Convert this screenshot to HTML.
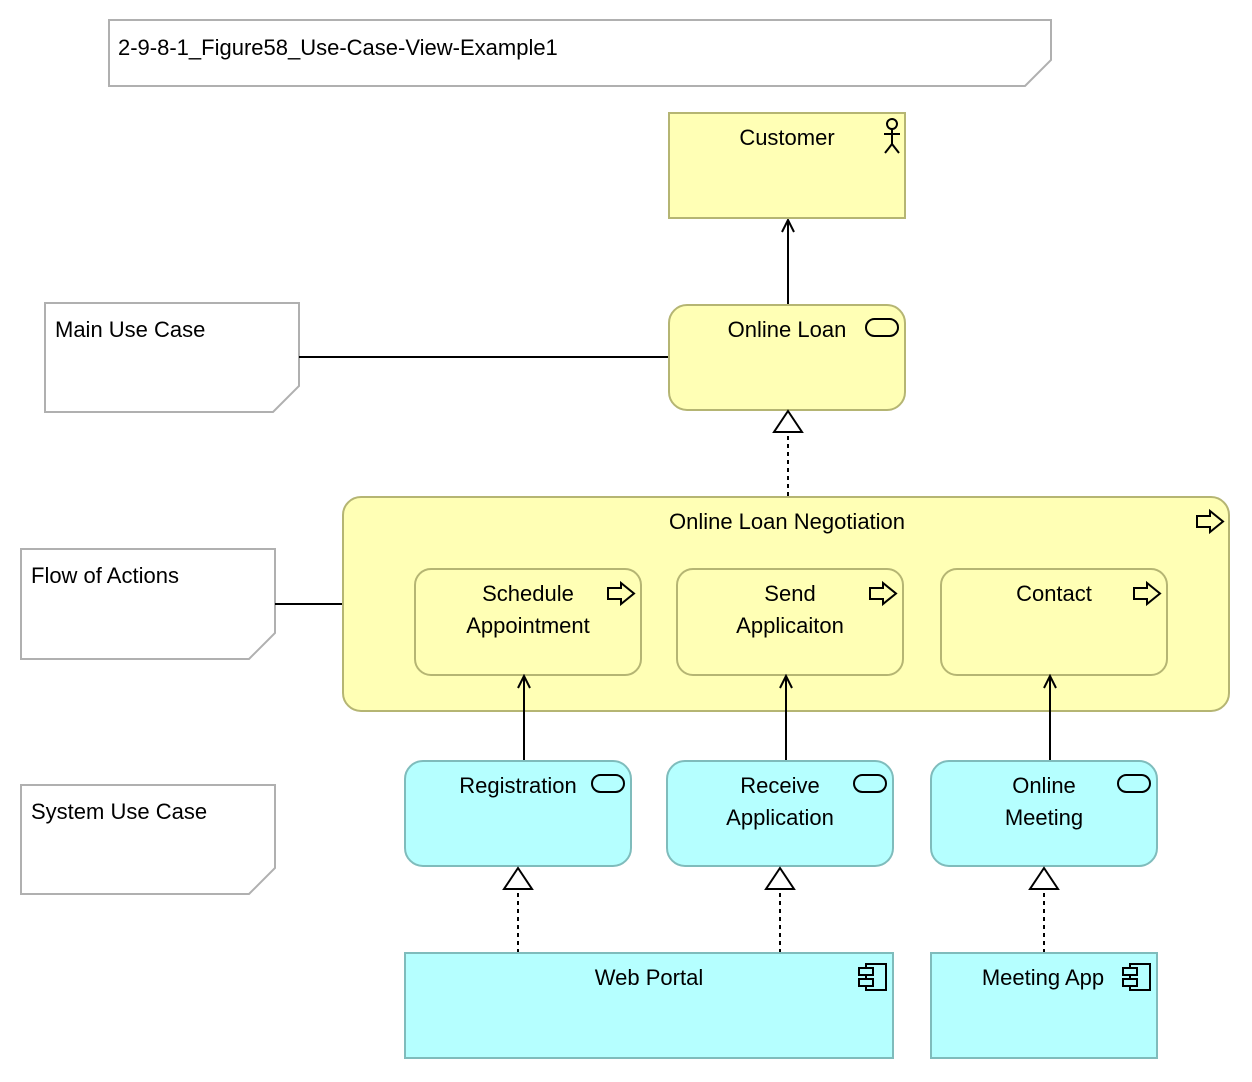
<!DOCTYPE html>
<html><head><meta charset="utf-8"><style>
html,body{margin:0;padding:0;background:#fff;}
svg{display:block;}
text{font-family:"Liberation Sans",sans-serif;font-size:22px;fill:#000;}
</style></head><body>
<svg width="1252" height="1082" viewBox="0 0 1252 1082" xmlns="http://www.w3.org/2000/svg">
<defs>
<g id="pill"><rect x="0" y="0" width="32" height="17" rx="8.5" fill="none" stroke="#000" stroke-width="2"/></g>
<g id="arr"><path d="M0,5 H13 V0 L26,10.5 L13,21 V16 H0 Z" fill="none" stroke="#000" stroke-width="2" stroke-linejoin="miter"/></g>
<g id="comp"><rect x="7" y="0" width="20" height="26" fill="none" stroke="#000" stroke-width="2"/><rect x="0" y="4" width="14" height="7" fill="#b5ffff" stroke="#000" stroke-width="2"/><rect x="0" y="15" width="14" height="7" fill="#b5ffff" stroke="#000" stroke-width="2"/></g>
<g id="tri"><path d="M0,0 L14,21 L-14,21 Z" fill="#fff" stroke="#000" stroke-width="2"/></g>
<g id="oa"><path d="M-6,12 L0,0 L6,12" fill="none" stroke="#000" stroke-width="2"/></g>
</defs>

<path d="M109,20 H1051 V60 L1025,86 H109 Z" fill="#fff" stroke="#b0b0b0" stroke-width="2"/>
<text x="118" y="55">2-9-8-1_Figure58_Use-Case-View-Example1</text>

<path d="M45,303 H299 V386 L273,412 H45 Z" fill="#fff" stroke="#b0b0b0" stroke-width="2"/>
<text x="55" y="337">Main Use Case</text>
<path d="M21,549 H275 V633 L249,659 H21 Z" fill="#fff" stroke="#b0b0b0" stroke-width="2"/>
<text x="31" y="583">Flow of Actions</text>
<path d="M21,785 H275 V868 L249,894 H21 Z" fill="#fff" stroke="#b0b0b0" stroke-width="2"/>
<text x="31" y="819">System Use Case</text>

<line x1="299" y1="357" x2="669" y2="357" stroke="#000" stroke-width="2"/>
<line x1="275" y1="604" x2="343" y2="604" stroke="#000" stroke-width="2"/>
<line x1="788" y1="304" x2="788" y2="220" stroke="#000" stroke-width="2"/>
<use href="#oa" x="788" y="220"/>
<line x1="788" y1="496" x2="788" y2="432" stroke="#000" stroke-width="2" stroke-dasharray="4,4"/>

<rect x="669" y="113" width="236" height="105" fill="#ffffb5" stroke="#b5b573" stroke-width="2"/>
<text x="787" y="145" text-anchor="middle">Customer</text>
<g stroke="#000" stroke-width="2" fill="none">
<circle cx="892" cy="124" r="5"/>
<line x1="892" y1="129" x2="892" y2="144"/>
<line x1="884" y1="134" x2="900" y2="134"/>
<line x1="892" y1="144" x2="885" y2="153"/>
<line x1="892" y1="144" x2="899" y2="153"/>
</g>

<rect x="669" y="305" width="236" height="105" rx="18" fill="#ffffb5" stroke="#b5b573" stroke-width="2"/>
<text x="787" y="337" text-anchor="middle">Online Loan</text>
<use href="#pill" x="866" y="319"/>
<use href="#tri" x="788" y="411"/>

<rect x="343" y="497" width="886" height="214" rx="18" fill="#ffffb5" stroke="#b5b573" stroke-width="2"/>
<text x="787" y="529" text-anchor="middle">Online Loan Negotiation</text>
<use href="#arr" x="1197" y="511"/>

<rect x="415" y="569" width="226" height="106" rx="16" fill="#ffffb5" stroke="#b5b573" stroke-width="2"/>
<text x="528" y="601" text-anchor="middle">Schedule</text>
<text x="528" y="633" text-anchor="middle">Appointment</text>
<use href="#arr" x="608" y="583"/>

<rect x="677" y="569" width="226" height="106" rx="16" fill="#ffffb5" stroke="#b5b573" stroke-width="2"/>
<text x="790" y="601" text-anchor="middle">Send</text>
<text x="790" y="633" text-anchor="middle">Applicaiton</text>
<use href="#arr" x="870" y="583"/>

<rect x="941" y="569" width="226" height="106" rx="16" fill="#ffffb5" stroke="#b5b573" stroke-width="2"/>
<text x="1054" y="601" text-anchor="middle">Contact</text>
<use href="#arr" x="1134" y="583"/>

<line x1="524" y1="761" x2="524" y2="676" stroke="#000" stroke-width="2"/><use href="#oa" x="524" y="676"/>
<line x1="786" y1="761" x2="786" y2="676" stroke="#000" stroke-width="2"/><use href="#oa" x="786" y="676"/>
<line x1="1050" y1="761" x2="1050" y2="676" stroke="#000" stroke-width="2"/><use href="#oa" x="1050" y="676"/>

<rect x="405" y="761" width="226" height="105" rx="18" fill="#b5ffff" stroke="#7fbcbc" stroke-width="2"/>
<text x="518" y="793" text-anchor="middle">Registration</text>
<use href="#pill" x="592" y="775"/>
<rect x="667" y="761" width="226" height="105" rx="18" fill="#b5ffff" stroke="#7fbcbc" stroke-width="2"/>
<text x="780" y="793" text-anchor="middle">Receive</text>
<text x="780" y="825" text-anchor="middle">Application</text>
<use href="#pill" x="854" y="775"/>
<rect x="931" y="761" width="226" height="105" rx="18" fill="#b5ffff" stroke="#7fbcbc" stroke-width="2"/>
<text x="1044" y="793" text-anchor="middle">Online</text>
<text x="1044" y="825" text-anchor="middle">Meeting</text>
<use href="#pill" x="1118" y="775"/>

<line x1="518" y1="953" x2="518" y2="889" stroke="#000" stroke-width="2" stroke-dasharray="4,4"/><use href="#tri" x="518" y="868"/>
<line x1="780" y1="953" x2="780" y2="889" stroke="#000" stroke-width="2" stroke-dasharray="4,4"/><use href="#tri" x="780" y="868"/>
<line x1="1044" y1="953" x2="1044" y2="889" stroke="#000" stroke-width="2" stroke-dasharray="4,4"/><use href="#tri" x="1044" y="868"/>

<rect x="405" y="953" width="488" height="105" fill="#b5ffff" stroke="#7fbcbc" stroke-width="2"/>
<text x="649" y="985" text-anchor="middle">Web Portal</text>
<use href="#comp" x="859" y="964"/>
<rect x="931" y="953" width="226" height="105" fill="#b5ffff" stroke="#7fbcbc" stroke-width="2"/>
<text x="1043" y="985" text-anchor="middle">Meeting App</text>
<use href="#comp" x="1123" y="964"/>
</svg>
</body></html>
